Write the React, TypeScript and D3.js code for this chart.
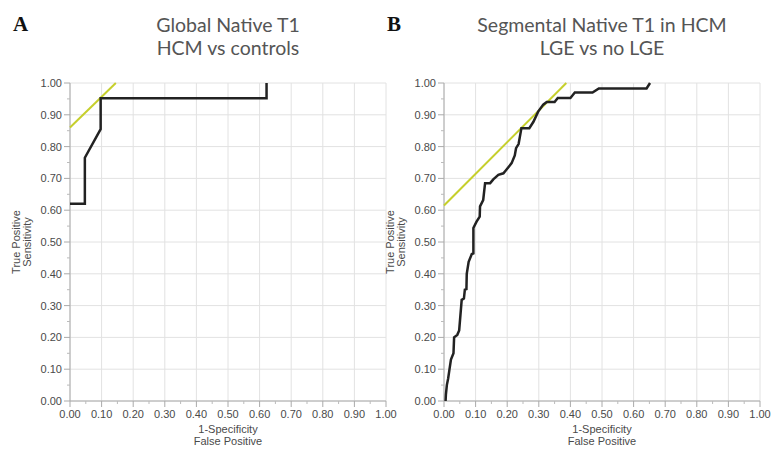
import React from 'react';
import * as d3 from 'd3';

// ROC curve A: global native T1, HCM vs controls
const fprA = [0, 0.047, 0.047, 0.097, 0.097, 0.622, 0.622];
const tprA = [0.62, 0.62, 0.765, 0.855, 0.952, 0.952, 1.0];

// ROC curve B: segmental native T1, LGE vs no LGE
const fprB = [0.005, 0.006, 0.009, 0.013, 0.017, 0.022, 0.03, 0.032, 0.042, 0.048, 0.056, 0.063, 0.066, 0.071, 0.072, 0.078, 0.088, 0.093, 0.093, 0.103, 0.113, 0.114, 0.124, 0.13, 0.146, 0.156, 0.172, 0.188, 0.198, 0.214, 0.224, 0.228, 0.236, 0.24, 0.245, 0.27, 0.283, 0.298, 0.314, 0.325, 0.35, 0.36, 0.4, 0.414, 0.47, 0.49, 0.641, 0.652];
const tprB = [0.0, 0.02, 0.05, 0.07, 0.097, 0.13, 0.15, 0.2, 0.208, 0.222, 0.318, 0.322, 0.35, 0.352, 0.4, 0.438, 0.462, 0.464, 0.544, 0.564, 0.58, 0.612, 0.632, 0.685, 0.685, 0.697, 0.711, 0.716, 0.728, 0.748, 0.772, 0.795, 0.808, 0.83, 0.858, 0.858, 0.878, 0.91, 0.932, 0.94, 0.94, 0.953, 0.953, 0.97, 0.97, 0.983, 0.983, 1.0];

// tangent (yellow) lines, [fpr, tpr] start and end
const tangentA = [[0, 0.86], [0.145, 1.0]];
const tangentB = [[0, 0.615], [0.387, 1.0]];

const titleA = ['Global Native T1', 'HCM vs controls'];
const titleB = ['Segmental Native T1 in HCM', 'LGE vs no LGE'];

const W = 773;
const H = 452;
const plotW = 316;
const plotH = 318;
const top = 83;
const tickFont = '"Liberation Sans", Arial, sans-serif';

const Panel = ({ left, letter, title, fpr, tpr, tangent }) => {
  const x = d3.scaleLinear().domain([0, 1]).range([left, left + plotW]);
  const y = d3.scaleLinear().domain([0, 1]).range([top + plotH, top]);
  const majors = x.ticks(10);
  const minors = x.ticks(20).filter((t) => Math.round(t * 100) % 10 !== 0);
  const fmt = d3.format('.2f');
  const pts = fpr.map((f, i) => [f, tpr[i]]);
  const line = d3.line().x((d) => x(d[0])).y((d) => y(d[1]));
  const cx = left + plotW / 2;
  const cy = top + plotH / 2;

  return (
    <g>
      <text x={left - 57} y={31} fontFamily='"Liberation Serif", "Times New Roman", serif' fontWeight="bold" fontSize={21} fill="#111">
        {letter}
      </text>
      {title.map((t, i) => (
        <text key={i} x={cx} y={32 + i * 23} textAnchor="middle" fontFamily="Lato, 'Open Sans', sans-serif" fontSize={19.5} fill="#555">
          {t}
        </text>
      ))}

      {/* grid */}
      {majors.map((t) => (
        <g key={'g' + t}>
          <line x1={x(t)} x2={x(t)} y1={top} y2={top + plotH} stroke="#e2e2e2" strokeWidth={1} />
          <line x1={left} x2={left + plotW} y1={y(t)} y2={y(t)} stroke="#e2e2e2" strokeWidth={1} />
        </g>
      ))}

      {/* axes */}
      <line x1={left} x2={left} y1={top} y2={top + plotH} stroke="#aaa" />
      <line x1={left} x2={left + plotW} y1={top + plotH} y2={top + plotH} stroke="#aaa" />
      {majors.map((t) => (
        <g key={'t' + t}>
          <line x1={left - 6} x2={left} y1={y(t)} y2={y(t)} stroke="#aaa" />
          <line x1={x(t)} x2={x(t)} y1={top + plotH} y2={top + plotH + 6} stroke="#aaa" />
          <text x={left - 8} y={y(t) + 4} textAnchor="end" fontFamily={tickFont} fontSize={11} fill="#4a4a4a">
            {fmt(t)}
          </text>
          <text x={x(t)} y={top + plotH + 17} textAnchor="middle" fontFamily={tickFont} fontSize={11} fill="#4a4a4a">
            {fmt(t)}
          </text>
        </g>
      ))}
      {minors.map((t) => (
        <g key={'m' + t}>
          <line x1={left - 3} x2={left} y1={y(t)} y2={y(t)} stroke="#bbb" />
          <line x1={x(t)} x2={x(t)} y1={top + plotH} y2={top + plotH + 3} stroke="#bbb" />
        </g>
      ))}

      <text x={cx} y={top + plotH + 32} textAnchor="middle" fontFamily={tickFont} fontSize={11} fill="#4a4a4a">1-Specificity</text>
      <text x={cx} y={top + plotH + 44} textAnchor="middle" fontFamily={tickFont} fontSize={11} fill="#4a4a4a">False Positive</text>
      <text transform={`translate(${left - 50},${cy}) rotate(-90)`} textAnchor="middle" fontFamily={tickFont} fontSize={11} fill="#4a4a4a">True Positive</text>
      <text transform={`translate(${left - 39},${cy}) rotate(-90)`} textAnchor="middle" fontFamily={tickFont} fontSize={11} fill="#4a4a4a">Sensitivity</text>

      <line x1={x(tangent[0][0])} y1={y(tangent[0][1])} x2={x(tangent[1][0])} y2={y(tangent[1][1])} stroke="#c6cf2c" strokeWidth={2} />
      <path d={line(pts)} fill="none" stroke="#222" strokeWidth={2.5} strokeLinejoin="miter" />
    </g>
  );
};

export default function App() {
  return (
    <svg width={W} height={H} style={{ position: 'absolute', left: 0, top: 0, background: '#fff' }}>
      <rect width={W} height={H} fill="#fff" />
      <Panel left={70} letter="A" title={titleA} fpr={fprA} tpr={tprA} tangent={tangentA} />
      <Panel left={444} letter="B" title={titleB} fpr={fprB} tpr={tprB} tangent={tangentB} />
    </svg>
  );
}
